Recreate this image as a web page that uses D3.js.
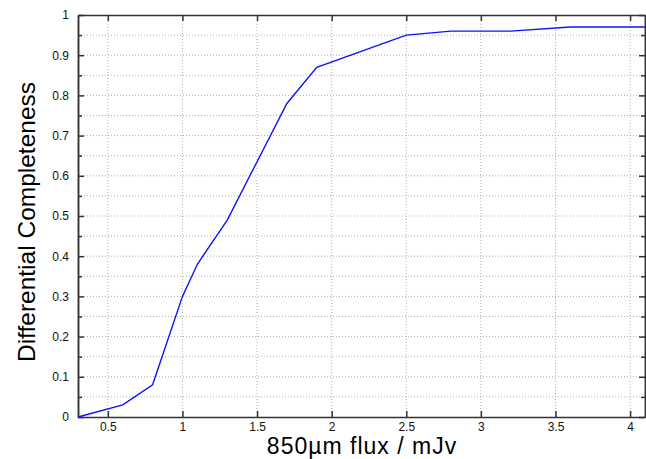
<!DOCTYPE html>
<html>
<head>
<meta charset="utf-8">
<script src="https://cdn.jsdelivr.net/npm/d3@7"></script>
<style>
  body { margin: 0; background: #fff; }
  svg { font-family: "Liberation Sans", Arial, sans-serif; }
  .tick-label { font-size: 12px; fill: #111; }
  .axis-label { font-size: 24.5px; fill: #000; }
  .x-label { font-size: 23px; letter-spacing: 1px; }
</style>
</head>
<body>
<svg id="chart" width="646" height="459"></svg>
<script>
// flux (mJy) and differential completeness
const fluxValues = [0.3, 0.6, 0.8, 1.0, 1.1, 1.3, 1.7, 1.9, 2.5, 2.8, 3.2, 3.6, 4.1];
const completenessValues = [0, 0.03, 0.08, 0.30, 0.38, 0.49, 0.78, 0.87, 0.95, 0.96, 0.96, 0.97, 0.97];
const xTicks = [0.5, 1, 1.5, 2, 2.5, 3, 3.5, 4];
const yTicks = [0, 0.1, 0.2, 0.3, 0.4, 0.5, 0.6, 0.7, 0.8, 0.9, 1];
const yMinorTicks = [0.05, 0.15, 0.25, 0.35, 0.45, 0.55, 0.65, 0.75, 0.85, 0.95];

const margin = { top: 15, right: 1, bottom: 42, left: 78 };
const width = 646 - margin.left - margin.right;
const height = 459 - margin.top - margin.bottom;

const svg = d3.select('svg#chart');
const g = svg.append('g')
  .attr('transform', `translate(${margin.left},${margin.top})`);

const xScale = d3.scaleLinear().domain([0.3, 4.1]).range([0, width]);
const yScale = d3.scaleLinear().domain([0, 1]).range([height, 0]);

// dotted grid
const grid = g.append('g').attr('stroke', '#b0b0b0').attr('stroke-width', 1)
  .attr('stroke-dasharray', '1,2');
grid.selectAll('line.gx').data(xTicks).enter().append('line')
  .attr('x1', d => xScale(d)).attr('x2', d => xScale(d))
  .attr('y1', 0).attr('y2', height);
grid.selectAll('line.gy').data(yTicks.slice(1, -1).concat(yMinorTicks)).enter().append('line')
  .attr('class', 'gy')
  .attr('y1', d => yScale(d)).attr('y2', d => yScale(d))
  .attr('x1', 0).attr('x2', width);

// axes, ticks pointing inward on all four sides
const axisColor = '#333';
const xAxisG = g.append('g')
  .attr('transform', `translate(0,${height})`)
  .call(d3.axisBottom(xScale).tickValues(xTicks).tickSizeInner(-6).tickSizeOuter(0).tickPadding(5).tickFormat(d3.format('')));
const xTopG = g.append('g')
  .call(d3.axisTop(xScale).tickValues(xTicks).tickSizeInner(-6).tickSizeOuter(0).tickFormat(''));
const yAxisG = g.append('g')
  .call(d3.axisLeft(yScale).tickValues(yTicks).tickSizeInner(-6).tickSizeOuter(0).tickPadding(9).tickFormat(d3.format('')));
const yRightG = g.append('g')
  .attr('transform', `translate(${width},0)`)
  .call(d3.axisRight(yScale).tickValues(yTicks).tickSizeInner(-6).tickSizeOuter(0).tickFormat(''));
const yMinorL = g.append('g')
  .call(d3.axisLeft(yScale).tickValues(yMinorTicks).tickSizeInner(-4).tickSizeOuter(0).tickFormat(''));
const yMinorR = g.append('g')
  .attr('transform', `translate(${width},0)`)
  .call(d3.axisRight(yScale).tickValues(yMinorTicks).tickSizeInner(-4).tickSizeOuter(0).tickFormat(''));

[xAxisG, xTopG, yAxisG, yRightG, yMinorL, yMinorR].forEach(a => {
  a.select('.domain').attr('stroke', axisColor).attr('stroke-width', 1.5);
  a.selectAll('.tick line').attr('stroke', axisColor).attr('stroke-width', 1.5);
  a.selectAll('.tick text').attr('class', 'tick-label').attr('font-size', null).attr('font-family', null);
});

// data line
const points = fluxValues.map((f, i) => [f, completenessValues[i]]);
g.append('path')
  .datum(points)
  .attr('fill', 'none')
  .attr('stroke', '#1010ff')
  .attr('stroke-width', 1.4)
  .attr('d', d3.line().x(d => xScale(d[0])).y(d => yScale(d[1])));

// axis titles
svg.append('text')
  .attr('class', 'axis-label x-label')
  .attr('x', 362)
  .attr('y', 454)
  .attr('text-anchor', 'middle')
  .text('850µm flux / mJv');

svg.append('text')
  .attr('class', 'axis-label')
  .attr('transform', 'translate(35,222) rotate(-90)')
  .attr('text-anchor', 'middle')
  .text('Differential Completeness');
</script>
</body>
</html>
